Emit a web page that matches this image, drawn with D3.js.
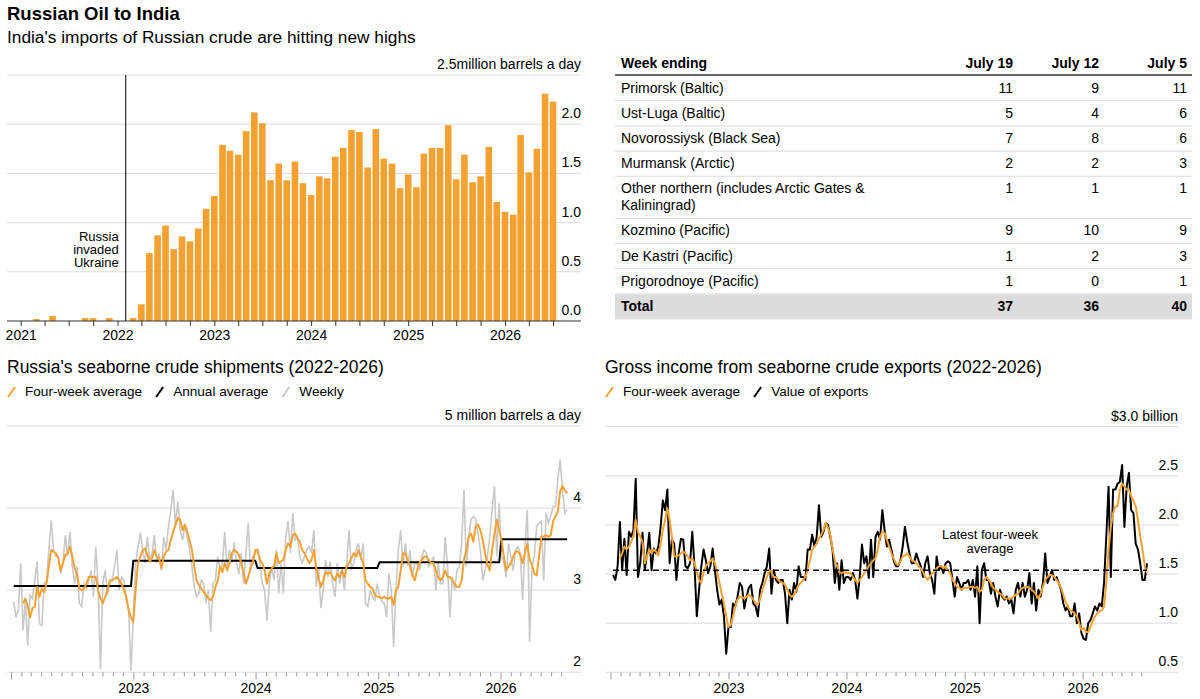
<!DOCTYPE html>
<html>
<head>
<meta charset="utf-8">
<script src="https://cdn.jsdelivr.net/npm/d3@7"></script>
<style>
body { margin: 0; background: #fff; }
svg text { font-family: "Liberation Sans", Arial, sans-serif; fill: #000; }
</style>
</head>
<body>
<div id="chart"></div>
<script>
// India's monthly imports of Russian crude, million b/d, Jan 2021 - Jul 2026
var importsStart = new Date(2021, 0, 1);
var indiaImports = [
  0, 0, 0.02, 0, 0.05, 0, 0, 0, 0.03, 0.03, 0, 0.03,
  0, 0, 0.03, 0.17, 0.69, 0.87, 0.97, 0.73, 0.86, 0.81, 0.94, 1.14,
  1.27, 1.79, 1.73, 1.69, 1.93, 2.12, 2.01, 1.43, 1.60, 1.43, 1.62, 1.40,
  1.28, 1.47, 1.45, 1.67, 1.76, 1.94, 1.92, 1.56, 1.95, 1.65, 1.60, 1.35,
  1.49, 1.36, 1.70, 1.76, 1.76, 1.99, 1.44, 1.69, 1.41, 1.47, 1.77, 1.21,
  1.11, 1.08, 1.89, 1.51, 1.75, 2.31, 2.23
];
var importTicks = [0, 0.5, 1, 1.5, 2, 2.5];

// port table, tankers per week
var weekCols = ["July 19", "July 12", "July 5"];
var ports = ["Primorsk (Baltic)", "Ust-Luga (Baltic)", "Novorossiysk (Black Sea)", "Murmansk (Arctic)",
  "Other northern (includes Arctic Gates & Kaliningrad)", "Kozmino (Pacific)", "De Kastri (Pacific)", "Prigorodnoye (Pacific)"];
var july19 = [11, 5, 7, 2, 1, 9, 1, 1];
var july12 = [9, 4, 8, 2, 1, 10, 2, 0];
var july5 = [11, 6, 6, 3, 1, 9, 3, 1];

// weekly series, week ending dates from Jan 9 2022
var weekStart = new Date(2022, 0, 9);

// Russia's seaborne crude shipments, million b/d
var shipWeekly = [
  2.86,2.67,2.76,3.33,2.51,2.88,2.33,2.94,2.90,3.12,3.35,2.59,2.57,3.08,3.12,3.49,3.85,3.49,3.41,3.41,3.20,3.33,3.67,3.41,3.71,3.29,3.08,3.29,2.84,2.80,3.08,3.02,3.12,3.24,2.92,3.53,3.08,2.04,3.08,3.24,2.94,3.08,3.12,3.29,3.49,3.00,3.16,3.12,2.88,2.76,2.02,2.67,
  3.33,3.53,3.70,3.49,3.33,3.65,3.37,3.45,3.67,3.33,3.45,3.24,3.65,3.49,3.78,3.98,4.22,3.78,4.08,3.73,3.61,3.78,3.65,3.49,3.29,3.04,2.92,2.96,3.12,3.08,2.84,3.00,2.49,3.08,3.12,3.41,3.24,3.33,3.71,3.24,3.49,3.33,3.59,3.33,3.20,3.45,3.08,3.45,3.82,3.24,3.41,3.45,
  3.49,3.33,3.08,3.00,2.63,3.08,3.29,3.12,3.49,2.96,3.33,2.96,3.65,3.84,3.45,3.94,3.61,3.65,3.41,3.33,3.41,3.49,3.53,3.45,3.73,3.04,3.29,2.78,3.00,3.37,3.16,3.35,3.08,2.92,3.33,3.08,3.27,3.00,3.33,3.73,3.24,3.33,3.49,3.57,3.37,3.57,2.84,2.80,3.00,2.92,2.88,3.08,
  2.92,2.86,2.84,2.67,3.20,3.00,2.31,3.00,3.49,3.73,3.29,3.57,3.29,3.49,3.16,3.33,3.33,3.24,3.41,3.49,3.45,3.29,3.33,3.41,3.00,3.33,3.08,3.08,3.65,3.29,2.67,3.16,3.00,3.24,3.29,3.57,4.22,3.29,3.65,3.86,3.90,3.86,3.69,3.49,3.12,3.24,3.41,3.65,3.98,4.27,3.41,4.06,
  3.41,3.33,3.16,3.57,3.41,3.24,3.49,3.53,3.45,2.88,3.53,3.98,2.37,3.29,3.41,3.78,3.82,3.84,3.12,3.94,3.82,3.90,4.02,4.02,4.35,4.59,4.22,3.94,3.98
];
var shipAvgStart = 4; // first week with a four-week average
var shipFourWeek = [
  2.84,2.90,2.80,2.67,2.78,2.80,3.04,2.92,3.02,2.98,3.08,3.29,3.49,3.47,3.45,3.39,3.24,3.33,3.43,3.45,3.53,3.41,3.27,3.20,3.02,3.00,3.02,3.08,3.16,3.16,3.16,3.16,3.00,2.90,2.84,2.92,3.00,3.12,3.12,3.14,3.16,3.12,3.08,3.00,2.92,2.76,2.67,2.61,
  3.00,3.33,3.41,3.49,3.51,3.43,3.35,3.39,3.49,3.41,3.39,3.27,3.41,3.47,3.49,3.61,3.71,3.80,3.88,3.86,3.73,3.80,3.71,3.61,3.49,3.29,3.12,3.06,3.02,2.98,2.94,2.90,2.88,2.92,3.04,3.12,3.29,3.22,3.33,3.24,3.33,3.45,3.49,3.47,3.43,3.33,3.22,3.08,3.16,3.27,3.33,3.49,
  3.49,3.37,3.33,3.24,3.08,3.20,3.27,3.29,3.45,3.33,3.35,3.37,3.49,3.57,3.53,3.67,3.69,3.63,3.59,3.49,3.45,3.39,3.33,3.37,3.49,3.27,3.14,3.04,3.12,3.22,3.20,3.22,3.16,3.12,3.20,3.16,3.24,3.16,3.29,3.33,3.39,3.45,3.41,3.49,3.41,3.33,3.12,3.08,3.04,3.02,2.94,2.92,
  2.92,2.90,2.92,2.90,2.90,2.92,2.82,3.00,3.04,3.24,3.45,3.45,3.37,3.29,3.18,3.12,3.24,3.33,3.37,3.41,3.41,3.37,3.33,3.33,3.24,3.16,3.12,3.16,3.24,3.16,3.16,3.12,3.08,3.04,3.04,3.12,3.37,3.49,3.65,3.69,3.59,3.78,3.80,3.73,3.61,3.45,3.31,3.24,3.49,3.69,3.86,3.73,
  3.61,3.41,3.24,3.29,3.33,3.41,3.47,3.47,3.43,3.33,3.45,3.57,3.37,3.31,3.20,3.18,3.41,3.65,3.65,3.67,3.65,3.67,3.84,3.90,3.96,4.20,4.27,4.22,4.18
];
var annualYears = [2022, 2023, 2024, 2025, 2026];
var shipAnnual = [3.05, 3.36, 3.27, 3.34, 3.62];
var shipTicks = [2, 3, 4, 5];

// gross income from seaborne crude exports, $ billion
var incomeWeekly = [
  1.49,1.44,1.58,2.03,1.54,1.86,1.49,1.93,1.88,1.95,2.47,1.47,1.61,1.92,1.54,1.71,1.92,1.54,1.76,1.71,1.78,1.98,2.25,2.15,2.36,1.61,1.85,1.81,1.44,1.71,1.86,1.85,1.58,1.56,1.61,1.93,1.58,1.07,1.34,1.58,1.75,1.64,1.51,1.58,1.76,1.54,1.34,1.19,1.24,1.07,0.69,0.96,
  0.96,1.20,1.17,1.27,1.41,1.37,1.15,1.27,1.36,1.39,1.20,1.17,1.07,1.34,1.41,1.51,1.58,1.76,1.30,1.54,1.44,1.41,1.44,1.44,1.30,1.00,1.34,1.24,1.41,1.32,1.58,1.47,1.47,1.44,1.75,1.75,1.90,1.78,1.88,2.20,1.88,1.93,2.02,2.00,1.88,1.75,1.41,1.61,1.34,1.64,1.41,1.47,
  1.47,1.44,1.51,1.44,1.25,1.47,1.80,1.61,1.68,1.46,1.85,1.47,1.88,1.93,1.85,2.15,1.95,1.78,1.85,1.75,1.64,1.58,1.58,1.64,1.78,1.98,1.83,1.71,1.61,1.61,1.71,1.64,1.58,1.47,1.61,1.68,1.51,1.44,1.30,1.68,1.54,1.58,1.51,1.61,1.63,1.61,1.44,1.27,1.47,1.41,1.34,1.41,
  1.41,1.44,1.34,1.44,1.27,1.58,1.00,1.54,1.61,1.44,1.44,1.30,1.41,1.27,1.17,1.34,1.27,1.24,1.27,1.20,1.24,1.10,1.34,1.41,1.27,1.41,1.27,1.34,1.51,1.20,1.41,1.13,1.34,1.27,1.41,1.71,1.41,1.47,1.54,1.44,1.47,1.41,1.34,1.20,1.13,1.17,1.07,1.07,1.20,1.00,1.10,0.90,
  0.84,0.83,1.00,1.03,1.10,1.17,1.13,1.20,1.17,1.41,1.88,2.39,1.47,2.36,2.36,2.42,2.44,2.61,1.98,2.39,2.53,2.15,2.12,1.81,1.75,1.61,1.44,1.44,1.61
];
var incomeAvgStart = 3;
var incomeFourWeek = [
  1.66,1.71,1.78,1.75,1.78,1.83,1.88,2.05,1.93,1.88,1.83,1.61,1.68,1.75,1.71,1.75,1.73,1.69,1.81,1.95,2.05,2.17,2.05,1.88,1.68,1.68,1.69,1.71,1.73,1.71,1.68,1.64,1.66,1.61,1.52,1.44,1.41,1.52,1.58,1.61,1.63,1.66,1.61,1.52,1.41,1.30,1.20,1.07,0.96,
  0.98,1.07,1.17,1.24,1.27,1.27,1.25,1.27,1.29,1.27,1.24,1.20,1.19,1.25,1.34,1.41,1.47,1.54,1.52,1.47,1.47,1.44,1.42,1.41,1.39,1.34,1.29,1.27,1.29,1.34,1.39,1.41,1.44,1.47,1.54,1.64,1.75,1.78,1.81,1.86,1.90,1.95,2.02,1.97,1.90,1.76,1.64,1.58,1.52,1.51,1.52,1.51,
  1.51,1.51,1.47,1.44,1.41,1.44,1.47,1.51,1.54,1.58,1.61,1.64,1.66,1.75,1.88,1.93,1.92,1.85,1.78,1.71,1.66,1.61,1.59,1.63,1.68,1.69,1.71,1.68,1.64,1.63,1.61,1.58,1.56,1.52,1.47,1.44,1.47,1.51,1.52,1.56,1.58,1.58,1.56,1.58,1.54,1.51,1.44,1.41,1.37,1.36,1.34,1.36,
  1.36,1.36,1.37,1.37,1.36,1.37,1.32,1.34,1.44,1.47,1.44,1.41,1.36,1.34,1.32,1.30,1.29,1.25,1.25,1.25,1.25,1.27,1.29,1.30,1.34,1.36,1.37,1.37,1.36,1.34,1.32,1.29,1.25,1.30,1.37,1.44,1.47,1.49,1.49,1.47,1.44,1.41,1.36,1.29,1.22,1.17,1.13,1.12,1.10,1.07,1.00,0.93,
  0.95,0.91,0.91,0.96,1.02,1.07,1.10,1.12,1.13,1.17,1.41,1.75,1.98,2.12,2.19,2.19,2.36,2.42,2.39,2.36,2.36,2.29,2.25,2.19,2.05,1.88,1.75,1.58,1.51
];
var latestAvg = 1.54;
var incomeTicks = [0.5, 1, 1.5, 2, 2.5, 3];

var orange = "#f5a132", grid = "#dcdcdc";

var svg = d3.select("#chart").append("svg")
  .attr("width", 1200)
  .attr("height", 699);

svg.append("text").attr("x", 7).attr("y", 20)
  .style("font-size", "18.5px").style("font-weight", "bold")
  .text("Russian Oil to India");
svg.append("text").attr("x", 7).attr("y", 43)
  .style("font-size", "17.3px")
  .text("India's imports of Russian crude are hitting new highs");

// ---------- bar chart ----------
var barX = d3.scaleTime().domain([new Date(2021, 0, 1), new Date(2026, 0, 1)]).range([20.7, 505]);
var barY = d3.scaleLinear().domain([0, 2.5]).range([321, 75]);
var months = indiaImports.map(function(v, i) { return {date: d3.timeMonth.offset(importsStart, i), value: v}; });

var gb = svg.append("g");
gb.selectAll(".grid").data(importTicks.slice(1)).enter().append("line")
  .attr("x1", 7).attr("x2", 581)
  .attr("y1", function(d) { return barY(d); }).attr("y2", function(d) { return barY(d); })
  .attr("stroke", grid);
gb.selectAll("rect").data(months).enter().append("rect")
  .attr("x", function(d) { return barX(d.date) - 3.3; })
  .attr("width", 6.6)
  .attr("y", function(d) { return barY(d.value); })
  .attr("height", function(d) { return barY(0) - barY(d.value); })
  .attr("fill", orange);
gb.selectAll(".ylab").data(importTicks).enter().append("text")
  .attr("x", 581).attr("y", function(d) { return barY(d) - 6; })
  .attr("text-anchor", "end").style("font-size", "14px")
  .text(function(d) { return d === 2.5 ? "2.5million barrels a day" : d3.format(".1f")(d); });

var barAxis = gb.append("g").attr("transform", "translate(0," + barY(0) + ")")
  .call(d3.axisBottom(barX)
    .tickValues(d3.timeMonth.range(new Date(2021, 0, 1), new Date(2026, 7, 1), 3))
    .tickSize(5).tickPadding(4)
    .tickFormat(function(d) { return d.getMonth() === 0 ? d3.timeFormat("%Y")(d) : ""; }));
barAxis.select(".domain").remove();
barAxis.selectAll("line").attr("stroke", "#333");
barAxis.selectAll("text").style("font-size", "14px").style("font-family", "Liberation Sans, Arial, sans-serif").attr("fill", "#000");
gb.append("line").attr("x1", 7).attr("x2", 581).attr("y1", barY(0)).attr("y2", barY(0)).attr("stroke", "#333");

// invasion marker
var invX = barX(new Date(2022, 1, 1));
gb.append("line").attr("x1", invX).attr("x2", invX).attr("y1", barY(2.5)).attr("y2", barY(0))
  .attr("stroke", "#000");
gb.append("text").attr("x", invX - 7).attr("y", 241).attr("text-anchor", "end").style("font-size", "13px")
  .selectAll("tspan").data(["Russia", "invaded", "Ukraine"]).enter().append("tspan")
  .attr("x", invX - 7).attr("dy", function(d, i) { return i ? 13 : 0; })
  .text(function(d) { return d; });

// ---------- table ----------
var cols = [1013, 1099, 1187];
var gt = svg.append("g").style("font-size", "14px");
gt.append("text").attr("x", 621).attr("y", 68).style("font-weight", "bold").text("Week ending");
gt.selectAll(".hd").data(weekCols).enter().append("text")
  .attr("x", function(d, i) { return cols[i]; }).attr("y", 68)
  .attr("text-anchor", "end").style("font-weight", "bold").text(function(d) { return d; });
gt.append("line").attr("x1", 615).attr("x2", 1192).attr("y1", 75).attr("y2", 75)
  .attr("stroke", "#666").attr("stroke-width", 2);

var rowTop = 76;
ports.forEach(function(p, r) {
  var t = gt.append("text").attr("x", 621).attr("y", rowTop + 16.5).text(p);
  var n = wrap(t, 245);
  [july19[r], july12[r], july5[r]].forEach(function(v, c) {
    gt.append("text").attr("x", cols[c]).attr("y", rowTop + 16.5).attr("text-anchor", "end").text(v);
  });
  rowTop += n > 1 ? 42 : 25.2;
  gt.append("line").attr("x1", 615).attr("x2", 1192).attr("y1", rowTop - 0.5).attr("y2", rowTop - 0.5)
    .attr("stroke", grid);
});
gt.append("rect").attr("x", 615).attr("y", rowTop).attr("width", 577).attr("height", 25).attr("fill", "#dcdcdc");
gt.append("text").attr("x", 621).attr("y", rowTop + 17).style("font-weight", "bold").text("Total");
[july19, july12, july5].forEach(function(col, c) {
  gt.append("text").attr("x", cols[c]).attr("y", rowTop + 17).attr("text-anchor", "end")
    .style("font-weight", "bold").text(d3.sum(col));
});

function wrap(text, width) {
  var words = text.text().split(/\s+/), line = [], lines = 1;
  var tspan = text.text(null).append("tspan").attr("x", 621);
  words.forEach(function(w) {
    line.push(w);
    tspan.text(line.join(" "));
    if (tspan.node().getComputedTextLength() > width && line.length > 1) {
      line.pop();
      tspan.text(line.join(" "));
      line = [w];
      tspan = text.append("tspan").attr("x", 621).attr("dy", 16.5).text(w);
      lines++;
    }
  });
  return lines;
}

// ---------- shared helpers for the two line charts ----------
function weekly(values, offset) {
  return values.map(function(v, i) { return {date: d3.timeDay.offset(weekStart, 7 * (i + offset)), value: v}; });
}

function legend(g, x0, y, items) {
  var x = x0;
  items.forEach(function(it) {
    g.append("line").attr("x1", x).attr("y1", y + 1).attr("x2", x + 7).attr("y2", y - 9)
      .attr("stroke", it.color).attr("stroke-width", 2);
    var t = g.append("text").attr("x", x + 17).attr("y", y).style("font-size", "13.6px").text(it.label);
    x += 17 + t.node().getComputedTextLength() + 14;
  });
}

function timeAxis(g, x, y0) {
  var ax = g.append("g").attr("transform", "translate(0," + y0 + ")")
    .call(d3.axisBottom(x)
      .tickValues(d3.timeMonth.range(new Date(2022, 0, 1), new Date(2026, 7, 1)))
      .tickSize(4).tickPadding(7)
      .tickFormat(function(d) { return d.getMonth() === 0 && d.getFullYear() > 2022 ? d3.timeFormat("%Y")(d) : ""; }));
  ax.select(".domain").remove();
  ax.selectAll("line").attr("stroke", "#999")
    .attr("y2", function(d) { return d.getMonth() === 0 ? 7 : 4; });
  ax.selectAll("text").style("font-size", "14px").style("font-family", "Liberation Sans, Arial, sans-serif").attr("fill", "#000");
}

// ---------- shipments ----------
var sx = d3.scaleTime().domain([new Date(2022, 0, 1), new Date(2026, 0, 1)]).range([11, 500.5]);
var sy = d3.scaleLinear().domain([2, 5]).range([672.3, 426]);
var gs = svg.append("g");
gs.append("text").attr("x", 7).attr("y", 373).style("font-size", "17.5px")
  .text("Russia's seaborne crude shipments (2022-2026)");
legend(gs, 8, 396, [
  {label: "Four-week average", color: orange},
  {label: "Annual average", color: "#000"},
  {label: "Weekly", color: "#ccc"}
]);
gs.selectAll(".grid").data(shipTicks).enter().append("line")
  .attr("x1", 7).attr("x2", 581)
  .attr("y1", function(d) { return sy(d); }).attr("y2", function(d) { return sy(d); })
  .attr("stroke", grid);
gs.selectAll(".ylab").data(shipTicks).enter().append("text")
  .attr("x", 581).attr("y", function(d) { return sy(d) - 6; })
  .attr("text-anchor", "end").style("font-size", "14px")
  .text(function(d) { return d === 5 ? "5 million barrels a day" : d; });
timeAxis(gs, sx, sy(2));

var sLine = d3.line().x(function(d) { return sx(d.date); }).y(function(d) { return sy(d.value); });
var shipW = weekly(shipWeekly, 0);
var annual = [];
annualYears.forEach(function(yr, i) {
  var inYear = shipW.filter(function(d) { return d.date.getFullYear() === yr; });
  annual.push({date: inYear[0].date, value: shipAnnual[i]});
  annual.push({date: inYear[inYear.length - 1].date, value: shipAnnual[i]});
});
gs.append("path").datum(shipW).attr("d", sLine)
  .attr("fill", "none").attr("stroke", "#c9c9c9").attr("stroke-width", 1.6);
gs.append("path").datum(annual).attr("d", sLine)
  .attr("fill", "none").attr("stroke", "#000").attr("stroke-width", 2);
gs.append("path").datum(weekly(shipFourWeek, shipAvgStart)).attr("d", sLine)
  .attr("fill", "none").attr("stroke", orange).attr("stroke-width", 2).attr("stroke-linejoin", "round");

// ---------- income ----------
var ix = d3.scaleTime().domain([new Date(2022, 0, 1), new Date(2026, 0, 1)]).range([610.5, 1082.7]);
var iy = d3.scaleLinear().domain([0.5, 3]).range([672.3, 426.7]);
var gi = svg.append("g");
gi.append("text").attr("x", 605).attr("y", 373).style("font-size", "17.5px")
  .text("Gross income from seaborne crude exports (2022-2026)");
legend(gi, 606, 396, [
  {label: "Four-week average", color: orange},
  {label: "Value of exports", color: "#000"}
]);
gi.selectAll(".grid").data(incomeTicks).enter().append("line")
  .attr("x1", 605).attr("x2", 1178)
  .attr("y1", function(d) { return iy(d); }).attr("y2", function(d) { return iy(d); })
  .attr("stroke", grid);
gi.selectAll(".ylab").data(incomeTicks).enter().append("text")
  .attr("x", 1178).attr("y", function(d) { return iy(d) - 6; })
  .attr("text-anchor", "end").style("font-size", "14px")
  .text(function(d) { return d === 3 ? "$3.0 billion" : d3.format(".1f")(d); });
timeAxis(gi, ix, iy(0.5));

var iLine = d3.line().x(function(d) { return ix(d.date); }).y(function(d) { return iy(d.value); });
var incW = weekly(incomeWeekly, 0);
gi.append("path").datum(incW).attr("d", iLine)
  .attr("fill", "none").attr("stroke", "#000").attr("stroke-width", 2).attr("stroke-linejoin", "round");
gi.append("path").datum(weekly(incomeFourWeek, incomeAvgStart)).attr("d", iLine)
  .attr("fill", "none").attr("stroke", orange).attr("stroke-width", 2).attr("stroke-linejoin", "round");

// latest four-week average reference
gi.append("line")
  .attr("x1", ix(incW[0].date)).attr("x2", ix(incW[incW.length - 1].date))
  .attr("y1", iy(latestAvg)).attr("y2", iy(latestAvg))
  .attr("stroke", "#000").attr("stroke-width", 1.5).attr("stroke-dasharray", "6,4");
gi.append("text").attr("text-anchor", "middle").style("font-size", "13px")
  .selectAll("tspan").data(["Latest four-week", "average"]).enter().append("tspan")
  .attr("x", 990).attr("y", function(d, i) { return 539 + i * 14; })
  .text(function(d) { return d; });
</script>
</body>
</html>
